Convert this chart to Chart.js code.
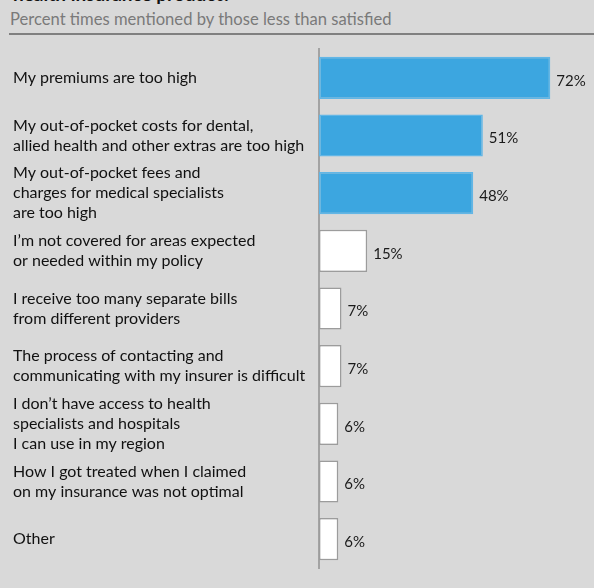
<!DOCTYPE html>
<html>
<head>
<meta charset="utf-8">
<script src="https://cdn.jsdelivr.net/npm/chart.js@4.4.0/dist/chart.umd.min.js"></script>
<style>
  html, body { margin: 0; padding: 0; background: #d9d9d9; width: 594px; height: 588px; overflow: hidden; }
  #wrap { position: relative; width: 594px; height: 588px; }
  #title { position: absolute; left: 13px; top: -17px; font: bold 19px Lato, sans-serif; color: #111; white-space: nowrap; line-height: 22px; }
  #subtitle { position: absolute; left: 10px; top: 8px; font: 16.6px Lato, sans-serif; color: #7a7a7a; white-space: nowrap; line-height: 22px; }
  #rule { position: absolute; left: 9px; right: 0; top: 33px; height: 2px; background: #808080; }
  canvas { position: absolute; left: 0; top: 0; }
</style>
</head>
<body>
<div id="wrap">
  <div id="title">health insurance product?</div>
  <div id="subtitle">Percent times mentioned by those less than satisfied</div>
  <div id="rule"></div>
  <canvas id="c" width="594" height="588"></canvas>
</div>
<script>
const categories = [
  ["My premiums are too high"],
  ["My out-of-pocket costs for dental,", "allied health and other extras are too high"],
  ["My out-of-pocket fees and", "charges for medical specialists", "are too high"],
  ["I\u2019m not covered for areas expected", "or needed within my policy"],
  ["I receive too many separate bills", "from different providers"],
  ["The process of contacting and", "communicating with my insurer is difficult"],
  ["I don\u2019t have access to health", "specialists and hospitals", "I can use in my region"],
  ["How I got treated when I claimed", "on my insurance was not optimal"],
  ["Other"]
];
const percentValues = [72, 51, 48, 15, 7, 7, 6, 6, 6];
const highlightedCount = 3;

const FONT = "Lato, sans-serif";

const valueLabels = {
  id: 'valueLabels',
  afterDatasetsDraw(chart) {
    const ctx = chart.ctx;
    const meta = chart.getDatasetMeta(0);
    ctx.save();
    ctx.font = "15px " + FONT;
    ctx.fillStyle = "#1a1a1a";
    ctx.textAlign = "left";
    ctx.textBaseline = "middle";
    meta.data.forEach((bar, i) => {
      ctx.fillText(percentValues[i] + "%", bar.x + 6, bar.y + 3);
    });
    ctx.restore();
  }
};

new Chart(document.getElementById('c'), {
  type: 'bar',
  data: {
    labels: categories,
    datasets: [{
      data: percentValues,
      backgroundColor: (c) => c.dataIndex < highlightedCount ? '#3ca6e0' : '#ffffff',
      borderColor: (c) => c.dataIndex < highlightedCount ? '#62b6e6' : '#9c9c9c',
      borderWidth: 1.5,
      borderSkipped: false,
      barPercentage: 0.73,
      categoryPercentage: 1.0
    }]
  },
  options: {
    indexAxis: 'y',
    responsive: false,
    animation: false,
    events: [],
    layout: { padding: { left: 13, right: 18, top: 49, bottom: 20 } },
    plugins: { legend: { display: false }, tooltip: { enabled: false } },
    scales: {
      x: { display: false, min: 0, max: 80 },
      y: {
        afterFit(scale) { scale.width = 306; },
        grid: { display: false, drawTicks: false },
        border: { display: true, color: '#a3a3a3', width: 2 },
        ticks: {
          autoSkip: false,
          crossAlign: 'far',
          padding: 0,
          color: '#111111',
          font: { family: FONT, size: 16, lineHeight: 1.25 }
        }
      }
    }
  },
  plugins: [valueLabels]
});
</script>
</body>
</html>
